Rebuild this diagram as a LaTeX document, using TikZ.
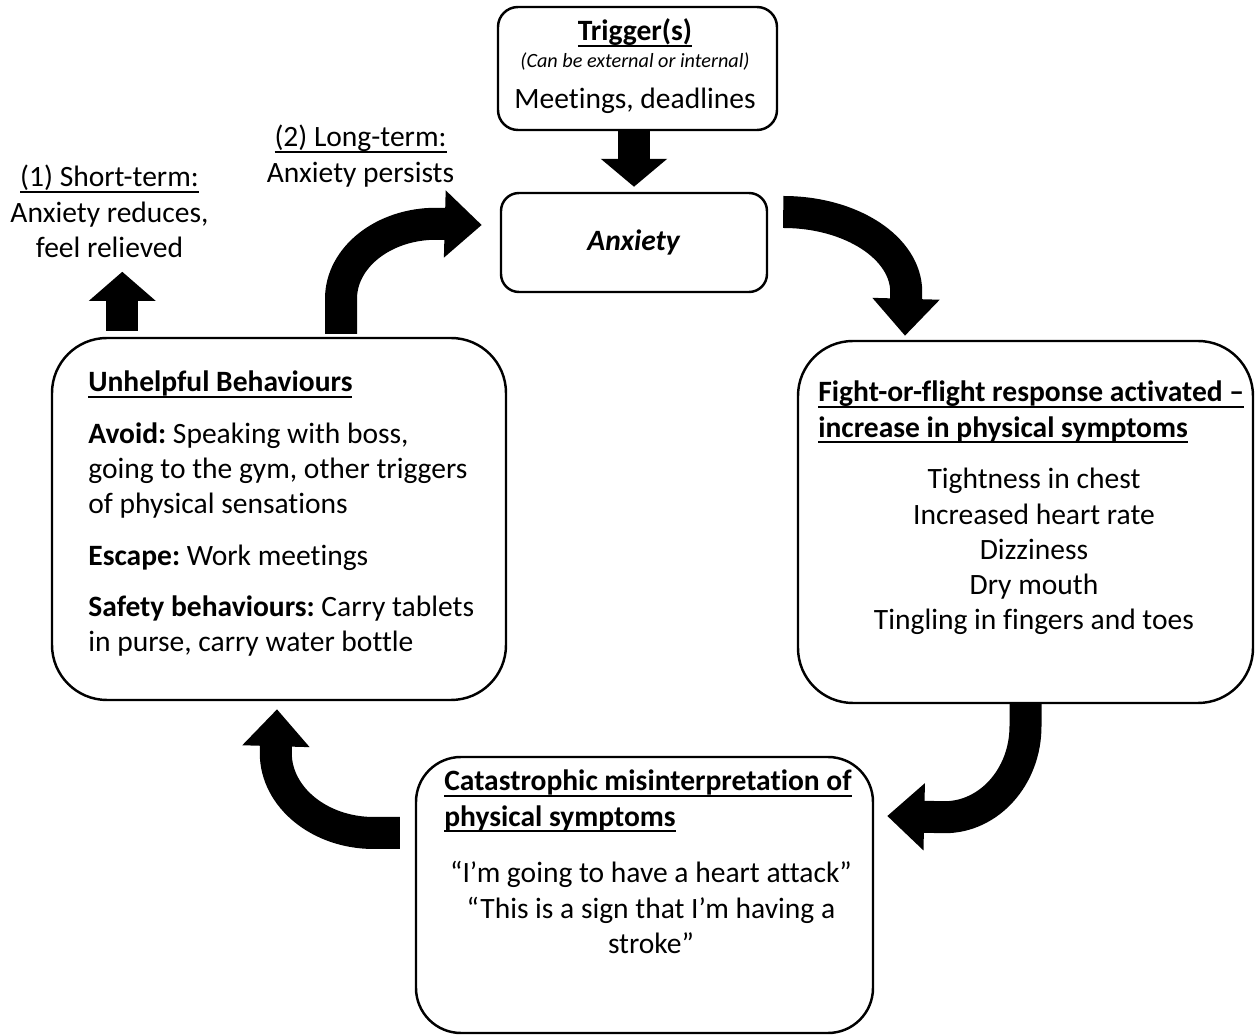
\documentclass[tikz,border=0pt]{standalone}
\usepackage{fontspec}
\setmainfont{Carlito}[Ligatures=CommonOff]
\usetikzlibrary{arrows.meta}

\newsavebox{\ulbox}
\newcommand{\uln}[1]{\leavevmode\sbox{\ulbox}{#1}\rlap{\vrule width\wd\ulbox height -2.2pt depth 3.4pt}\usebox{\ulbox}}
\newcommand{\bodyfont}{\fontsize{16.8}{20}\selectfont\frenchspacing}
\newcommand{\headline}[1]{\uln{\textbf{#1}}}

\begin{document}
\begin{tikzpicture}[
    box/.style={draw, line width=1.4pt, rounded corners=#1},
    fatarrow/.style={line width=0.64cm, -{Triangle[length=#1, width=1.3cm]}},
    fatarrow/.default=0.74cm,
    txt/.style={inner sep=0pt, text width=#1, font=\bodyfont, align=flush left},
    ctxt/.style={inner sep=0pt, text width=#1, font=\bodyfont, align=flush center},
]
    \useasboundingbox (0,0) rectangle (25.1,20.72);

    % boxes
    \node[box=0.4cm, minimum width=5.58cm, minimum height=2.46cm] (trig) at (12.75,19.35) {};
    \node[box=0.36cm, minimum width=5.32cm, minimum height=1.98cm, font=\bodyfont] (anx) at (12.68,15.87) {\textbf{\textit{Anxiety}}};
    \node[box=1.1cm, minimum width=9.08cm, minimum height=7.24cm] (beh) at (5.58,10.34) {};
    \node[box=1.1cm, minimum width=9.10cm, minimum height=7.24cm] (fight) at (20.51,10.28) {};
    \node[box=0.9cm, minimum width=9.14cm, minimum height=5.52cm] (cat) at (12.89,2.82) {};

    % texts
    \node[ctxt=5.4cm, anchor=base] (trigtext) at (12.7,19.9) {%
        \headline{Trigger(s)}\\[-0.17cm]
        {\fontsize{11.5}{12}\selectfont\itshape (Can be external or internal)}\\[0.12cm]
        Meetings, deadlines};
    \node[ctxt=4.4cm, anchor=base] (shortlab) at (2.19,16.98) {%
        \uln{(1) Short-term:}\\ Anxiety reduces,\\ feel relieved};
    \node[ctxt=4.4cm, anchor=base] (longlab) at (7.21,17.78) {%
        \uln{(2) Long-term:}\\ Anxiety persists};
    \node[txt=8.4cm, anchor=base west] (behtext) at (1.76,12.88) {%
        \headline{Unhelpful Behaviours}\\[0.32cm]
        \textbf{Avoid:} Speaking with boss,\\
        going to the gym, other triggers\\
        of physical sensations\\[0.33cm]
        \textbf{Escape:} Work meetings\\[0.33cm]
        \textbf{Safety behaviours:} Carry tablets\\
        in purse, carry water bottle};
    \node[txt=9cm, anchor=base west] (fighthead) at (16.36,12.68) {%
        \headline{Fight-or-flight response activated –}\\
        \headline{increase in physical symptoms}};
    \node[ctxt=8.6cm, anchor=base] (fightbody) at (20.68,10.94) {%
        Tightness in chest\\ Increased heart rate\\ Dizziness\\ Dry mouth\\
        Tingling in fingers and toes};
    \node[txt=8.6cm, anchor=base west] (cathead) at (8.88,4.9) {%
        \headline{Catastrophic misinterpretation of}\\
        \headline{physical symptoms}};
    \node[ctxt=8.6cm, anchor=base] (catbody) at (13.02,3.06) {%
        “I’m going to have a heart attack”\\
        “This is a sign that I’m having a\\ stroke”};

    % arrows
    \draw[fatarrow=0.56cm] (trig.south -| anx.north) -- ([yshift=0.1cm]anx.north);
    \draw[fatarrow=0.58cm] ([xshift=1.43cm,yshift=0.12cm]beh.north west) -- ([xshift=1.43cm,yshift=1.3cm]beh.north west);
    \draw[fatarrow] ([xshift=1.24cm,yshift=0.06cm]beh.north) -- ++(0,0.7)
        arc[start angle=180, end angle=90, x radius=1.9, y radius=1.5]
        -- ([xshift=-0.36cm,yshift=0.35cm]anx.west);
    \draw[fatarrow] ([xshift=0.3cm,yshift=0.61cm]anx.east)
        arc[start angle=90, end angle=0, x radius=2.46, y radius=1.6]
        -- ([xshift=-2.41cm,yshift=0.08cm]fight.north);
    \draw[fatarrow] (fight.south) -- ++(0,-0.44)
        arc[start angle=0, end angle=-90, x radius=1.62, y radius=1.82]
        -- ([xshift=0.26cm,yshift=1.58cm]cat.east);
    \draw[fatarrow] ([xshift=-0.3cm,yshift=1.24cm]cat.west) -- ++(-0.52,0)
        arc[start angle=270, end angle=180, x radius=1.96, y radius=1.6]
        -- ([xshift=-0.04cm,yshift=-0.16cm]beh.south);
\end{tikzpicture}
\end{document}
